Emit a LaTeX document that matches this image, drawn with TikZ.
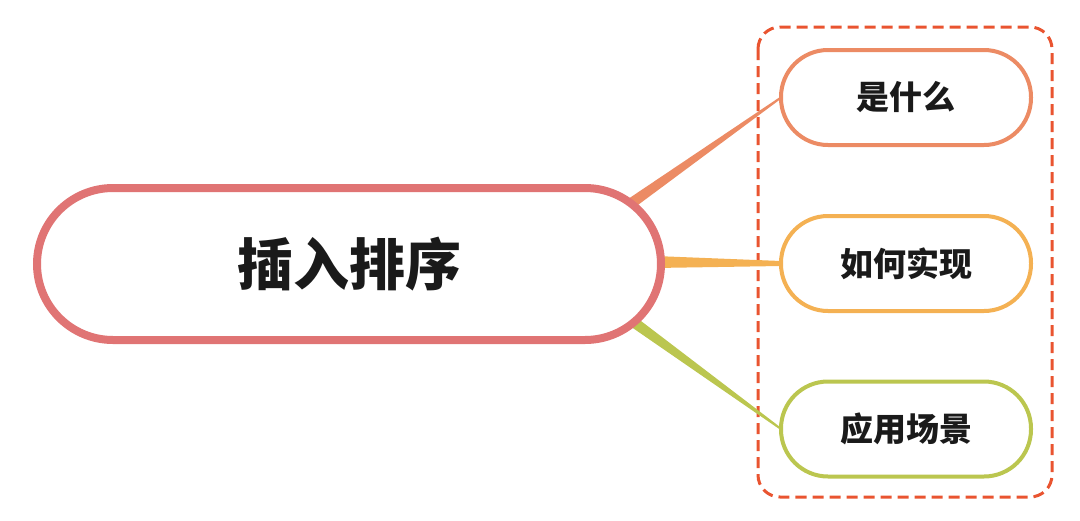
\documentclass[tikz,border=0pt]{standalone}
\usepackage{fontspec}
\setmainfont{Noto Sans CJK SC}
\usetikzlibrary{calc}
\definecolor{mainc}{HTML}{E07474}
\definecolor{c1}{HTML}{EC8B64}
\definecolor{c2}{HTML}{F4B153}
\definecolor{c3}{HTML}{BBC64F}
\definecolor{dashc}{HTML}{E95430}
\definecolor{txt}{HTML}{1A1A1A}
\begin{document}
\begin{tikzpicture}[x=1pt,y=-1pt,
  mainbox/.style={draw=mainc,line width=8pt,fill=white,rounded corners=76pt,
    minimum width=624pt,minimum height=152pt,inner sep=0pt,
    font=\fontsize{56}{60}\selectfont\bfseries,text=txt},
  childbox/.style={draw=#1,line width=4pt,fill=white,rounded corners=47pt,
    minimum width=250pt,minimum height=95pt,inner sep=0pt,
    font=\fontsize{33}{36}\selectfont\bfseries,text=txt},
  groupbox/.style={draw=dashc,line width=3pt,dash pattern=on 11pt off 6pt,rounded corners=22pt}
]
\useasboundingbox (0,0) rectangle (1080,520);
% group frame
\coordinate (g1) at (758,27);
\coordinate (g2) at (1052,497);
\draw[groupbox] (g1) rectangle (g2);
% start points of the tapered connectors
\coordinate (s1) at (626,207);
\coordinate (s2) at (655,262);
\coordinate (s3) at (628,318);
% child nodes (drawn first for anchors; placed later on top)
\path (906,97.5) coordinate (p1) (906,263.5) coordinate (p2) (906,429) coordinate (p3);
\coordinate (e1) at (781,97.5);
\coordinate (e2) at (781,263.5);
\coordinate (e3) at (781,429);
% tapered connectors
\fill[c1] ($(s1)!5.5pt!90:(e1)$) -- ($(e1)!1pt!-90:(s1)$) -- ($(e1)!1pt!90:(s1)$) -- ($(s1)!5.5pt!-90:(e1)$) -- cycle;
\fill[c2] ($(s2)!6pt!90:(e2)$) -- ($(e2)!2.5pt!-90:(s2)$) -- ($(e2)!2.5pt!90:(s2)$) -- ($(s2)!6pt!-90:(e2)$) -- cycle;
\fill[c3] ($(s3)!5.5pt!90:(e3)$) -- ($(e3)!1pt!-90:(s3)$) -- ($(e3)!1pt!90:(s3)$) -- ($(s3)!5.5pt!-90:(e3)$) -- cycle;
% nodes
\node[mainbox] (main) at (349,264) {插入排序};
\node[childbox=c1] (n1) at (p1) {是什么};
\node[childbox=c2] (n2) at (p2) {如何实现};
\node[childbox=c3] (n3) at (p3) {应用场景};
\end{tikzpicture}
\end{document}
